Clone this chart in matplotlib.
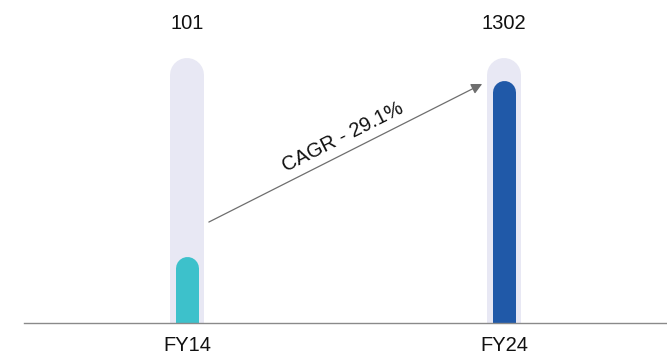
import matplotlib.pyplot as plt

plt.rcParams['font.family'] = ['Liberation Sans', 'DejaVu Sans']

categories = ["FY14", "FY24"]
values = [101, 1302]
# drawn bar heights as they appear in the reference (FY14 bar is not to scale)
bar_heights = [354, 1302]
track_max = 1420
bar_colors = ["#3DC1CB", "#2059A8"]
track_color = "#E8E8F4"
cagr_label = "CAGR - 29.1%"

W, H = 667, 354
fig = plt.figure(figsize=(W / 100, H / 100), dpi=100)
ax = fig.add_axes([24 / W, 31 / H, 643 / W, 323 / H])
ax.set_xlim(-0.514, 1.514)
ax.set_ylim(0, 1731)

# data units per pixel (vertical), used to keep rounded caps at the right height
u_per_px = 1731 / 323

x = list(range(len(categories)))
for i, (h, c) in enumerate(zip(bar_heights, bar_colors)):
    # background track
    ax.plot([x[i], x[i]], [-200, track_max - 17 * u_per_px], color=track_color,
            lw=34 * 0.72, solid_capstyle="round", zorder=1)
    # value bar
    ax.plot([x[i], x[i]], [-200, h - 11.5 * u_per_px], color=c,
            lw=23 * 0.72, solid_capstyle="round", zorder=2)
    ax.text(x[i], 1605, str(values[i]), ha="center", va="center",
            fontsize=14.5, color="#111111")

# CAGR arrow
ax.annotate("", xy=(0.931, 1281), xytext=(0.069, 541),
            arrowprops=dict(arrowstyle="-|>", color="#6E6E6E", lw=0.9,
                            mutation_scale=16, shrinkA=0, shrinkB=0))
ax.text(0.492, 997, cagr_label, rotation=26.8, ha="center", va="center",
        fontsize=14.5, color="#111111", rotation_mode="anchor")

ax.set_xticks(x)
ax.set_xticklabels(categories, fontsize=14.5, color="#111111")
ax.tick_params(axis="x", length=0, pad=9.5)
ax.set_yticks([])
for s in ["top", "right", "left"]:
    ax.spines[s].set_visible(False)
ax.spines["bottom"].set_color("#8A8A8A")
ax.spines["bottom"].set_linewidth(1)
ax.spines["bottom"].set_zorder(5)

fig.savefig("out.png", dpi=100)
